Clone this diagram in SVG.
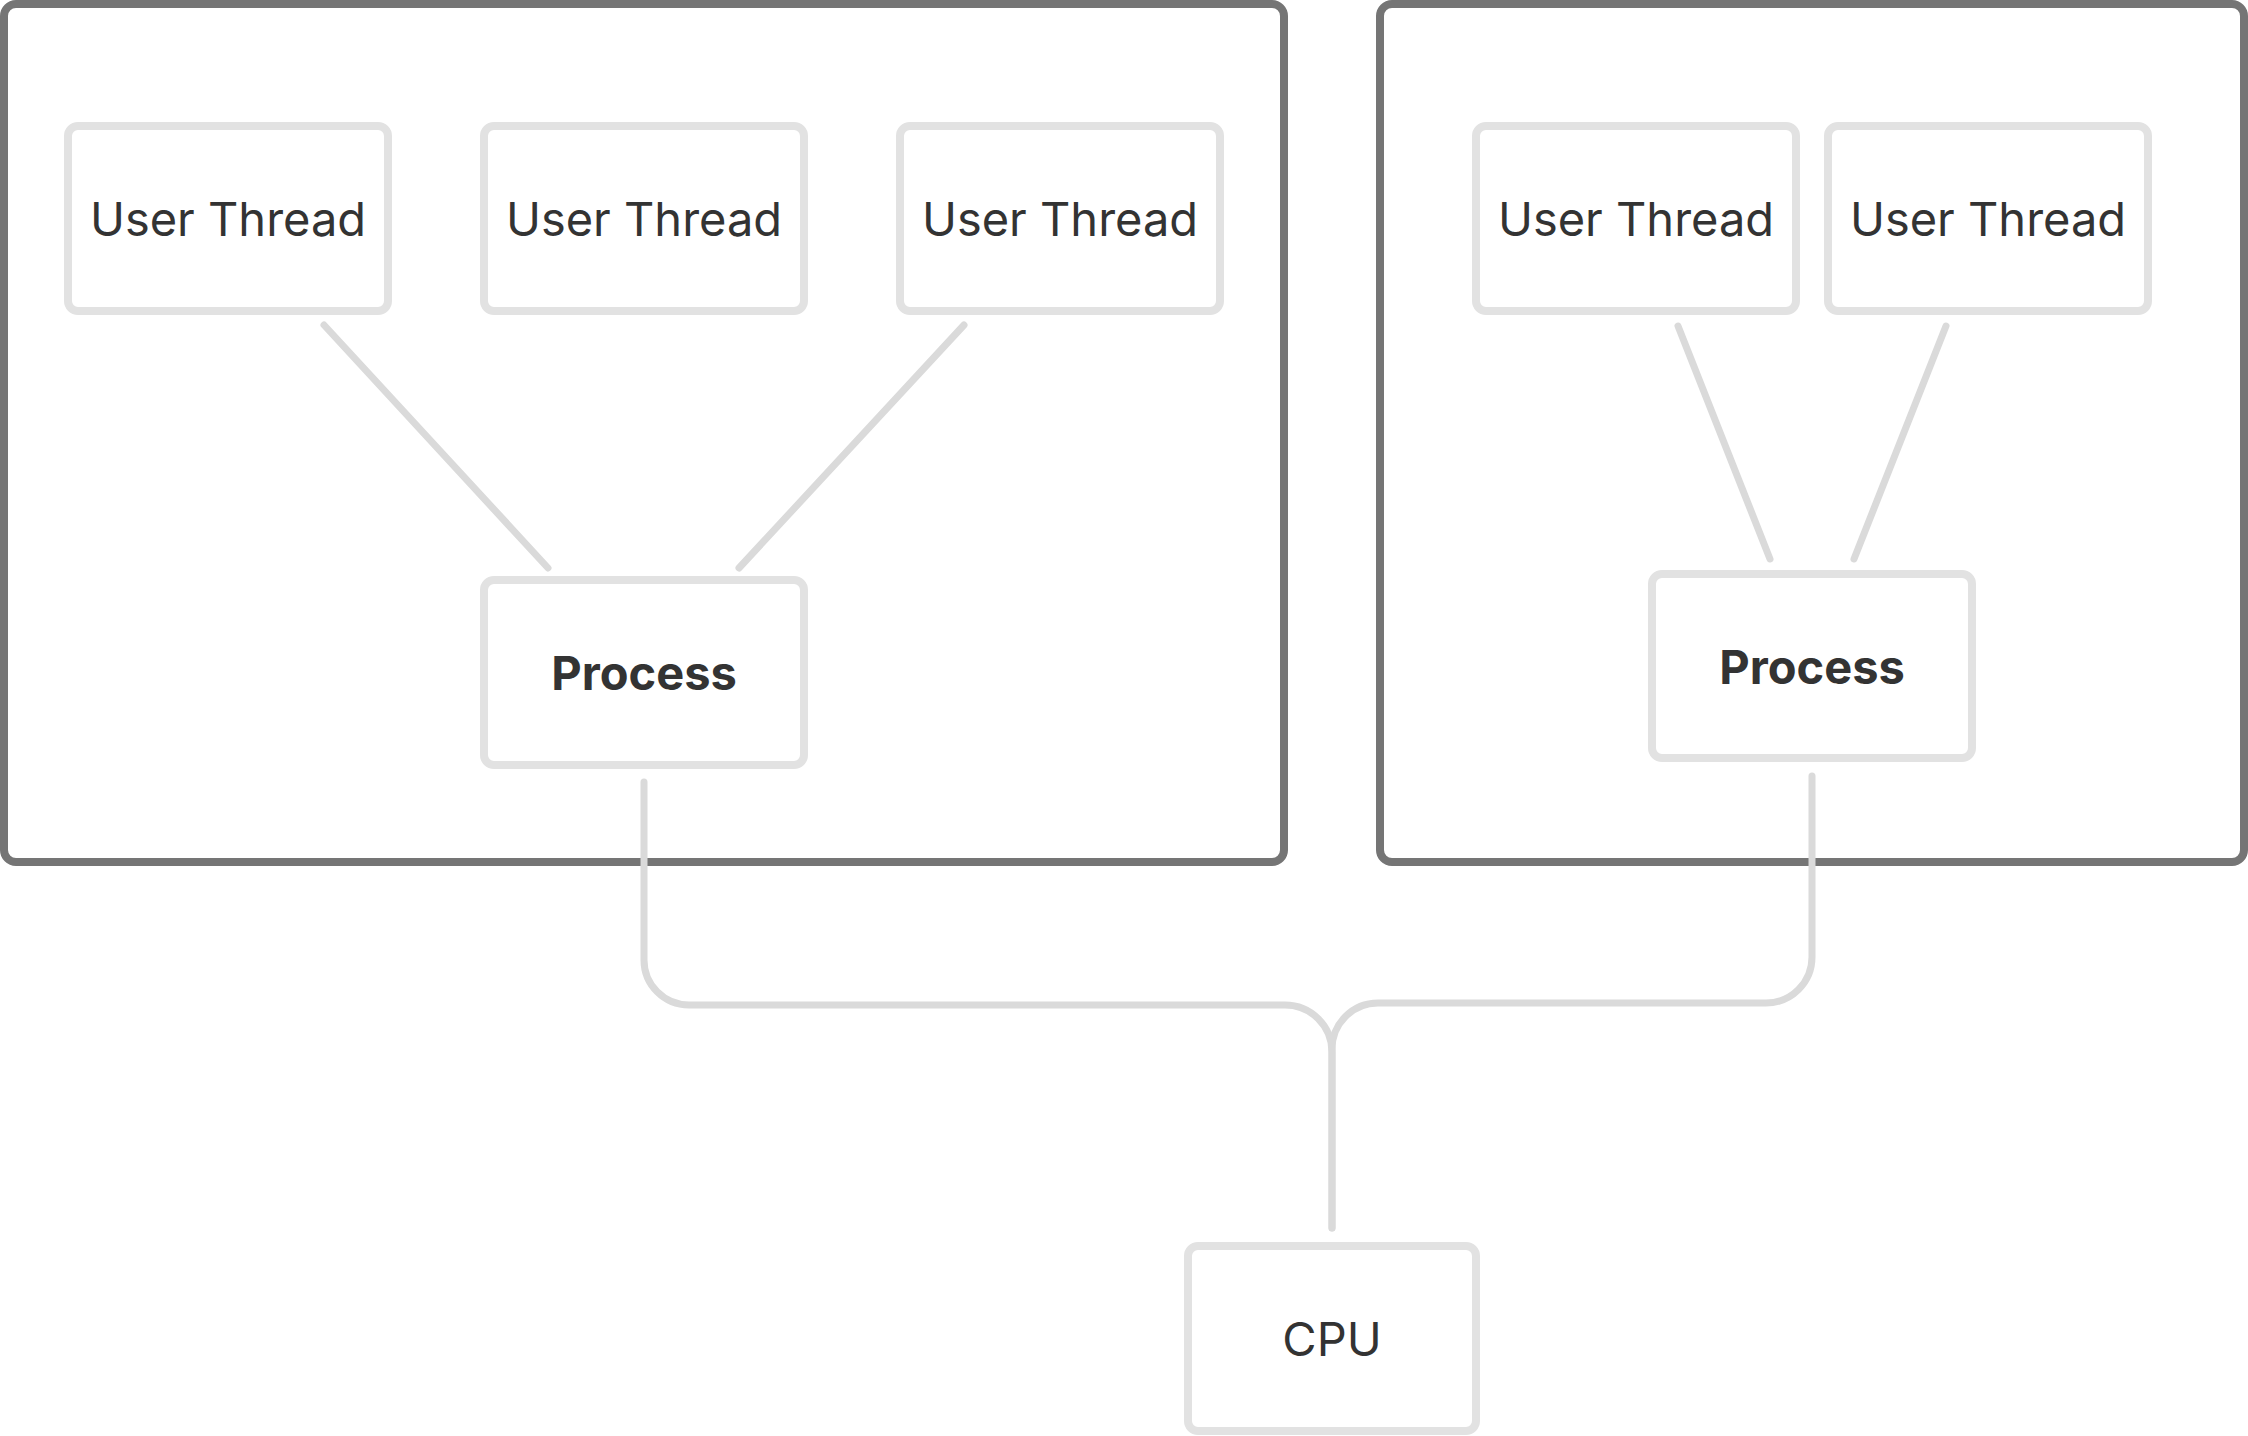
<svg xmlns="http://www.w3.org/2000/svg" width="2248" height="1436" viewBox="0 0 2248 1436">
<style>
.container{fill:none;stroke:#757575;stroke-width:8}
.box{fill:#ffffff;stroke:#e2e2e2;stroke-width:8}
.lbl{font-family:Inter,"Liberation Sans",sans-serif;font-size:47px;fill:#333333;text-anchor:middle;dominant-baseline:central}
.bold{font-weight:700}
.conn{fill:none;stroke:#dadada;stroke-width:7;stroke-linecap:round;stroke-linejoin:round}
</style>
<rect width="2248" height="1436" fill="#ffffff"/>
<g id="container-left"><rect class="container" x="4" y="4" width="1280" height="858" rx="12"/></g>
<g id="container-right"><rect class="container" x="1380" y="4" width="864" height="858" rx="12"/></g>
<g id="thread-1"><rect class="box" x="68" y="126" width="320" height="185" rx="10"/><text class="lbl" x="228" y="218.5">User Thread</text></g>
<g id="thread-2"><rect class="box" x="484" y="126" width="320" height="185" rx="10"/><text class="lbl" x="644" y="218.5">User Thread</text></g>
<g id="thread-3"><rect class="box" x="900" y="126" width="320" height="185" rx="10"/><text class="lbl" x="1060" y="218.5">User Thread</text></g>
<g id="thread-4"><rect class="box" x="1476" y="126" width="320" height="185" rx="10"/><text class="lbl" x="1636" y="218.5">User Thread</text></g>
<g id="thread-5"><rect class="box" x="1828" y="126" width="320" height="185" rx="10"/><text class="lbl" x="1988" y="218.5">User Thread</text></g>
<g id="process-left"><rect class="box" x="484" y="580" width="320" height="185" rx="10"/><text class="lbl bold" x="644" y="672.5">Process</text></g>
<g id="process-right"><rect class="box" x="1652" y="574" width="320" height="184" rx="10"/><text class="lbl bold" x="1812" y="666">Process</text></g>
<g id="cpu"><rect class="box" x="1188" y="1246" width="288" height="185" rx="10"/><text class="lbl" x="1332" y="1338.5">CPU</text></g>
<g id="connectors">
<line class="conn" x1="324" y1="325" x2="548" y2="568"/>
<line class="conn" x1="964" y1="325" x2="739" y2="568"/>
<line class="conn" x1="1678" y1="326" x2="1770" y2="559"/>
<line class="conn" x1="1946" y1="326" x2="1854" y2="559"/>
<path class="conn" d="M644 782 V960 A45 45 0 0 0 689 1005 H1285 A47 47 0 0 1 1332 1052 V1228"/>
<path class="conn" d="M1812 776 V957 A46 46 0 0 1 1766 1003 H1378 A46 46 0 0 0 1332 1049 V1228"/>
</g>
</svg>
